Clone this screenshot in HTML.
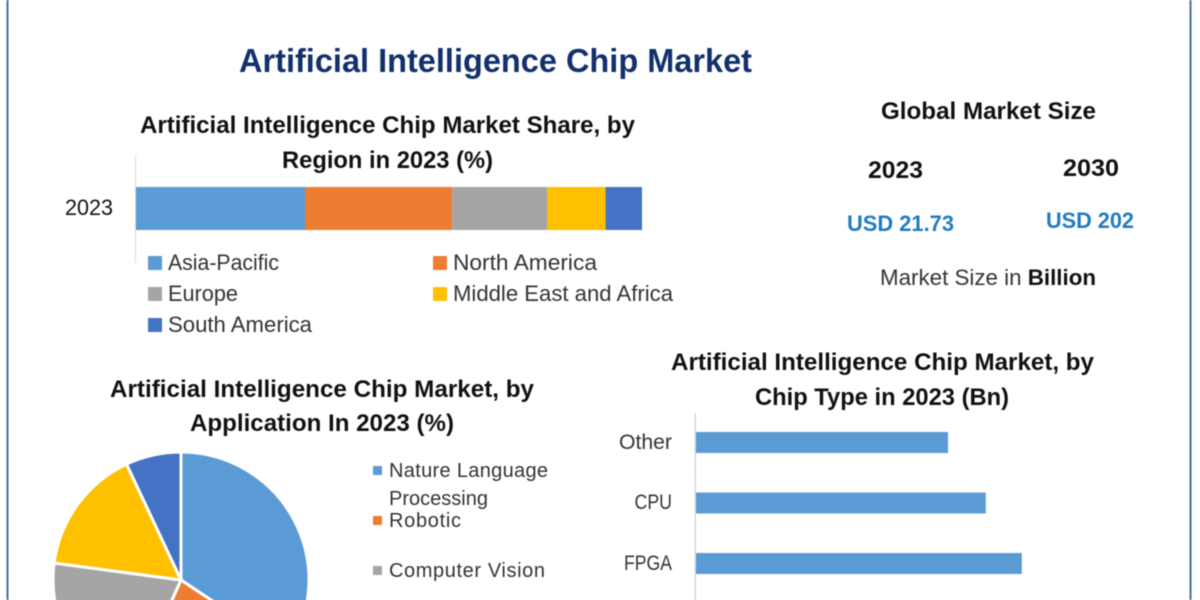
<!DOCTYPE html>
<html lang="en">
<head>
<meta charset="utf-8">
<title>Artificial Intelligence Chip Market</title>
<style>
html,body{margin:0;padding:0;background:#fff;width:1200px;height:600px;overflow:hidden}
svg{display:block;font-family:"Liberation Sans",sans-serif}
.main{filter:blur(.4px)}
.t{font-weight:bold;fill:#111;font-size:24px}
.l{fill:#333;font-size:22px}
</style>
</head>
<body>
<svg id="chart" width="1200" height="600" viewBox="0 0 1200 600" xmlns="http://www.w3.org/2000/svg">
<g class="main">
<rect width="1200" height="600" fill="#fff"/>
<rect x="6.5" y="0" width="2" height="600" fill="#41719c"/>
<rect x="1189.5" y="0" width="2" height="600" fill="#41719c"/>

<text x="239" y="72" font-size="33" font-weight="bold" fill="#12306b" textLength="513" lengthAdjust="spacingAndGlyphs">Artificial Intelligence Chip Market</text>

<text class="t" x="140" y="133" textLength="495" lengthAdjust="spacingAndGlyphs">Artificial Intelligence Chip Market Share, by</text>
<text class="t" x="282" y="168" textLength="211" lengthAdjust="spacingAndGlyphs">Region in 2023 (%)</text>
<rect x="135" y="155" width="1" height="108" fill="#d9d9d9"/>
<text x="65" y="215" font-size="22" fill="#111" textLength="48" lengthAdjust="spacingAndGlyphs">2023</text>
<g id="stack"></g>

<rect x="148" y="256" width="14" height="14" fill="#5b9bd5"/>
<text class="l" x="168" y="270" textLength="111" lengthAdjust="spacingAndGlyphs">Asia-Pacific</text>
<rect x="433" y="256" width="14" height="14" fill="#ed7d31"/>
<text class="l" x="453" y="270" textLength="144" lengthAdjust="spacingAndGlyphs">North America</text>
<rect x="148" y="287" width="14" height="14" fill="#a5a5a5"/>
<text class="l" x="168" y="301" textLength="70" lengthAdjust="spacingAndGlyphs">Europe</text>
<rect x="433" y="287" width="14" height="14" fill="#ffc000"/>
<text class="l" x="453" y="301" textLength="220" lengthAdjust="spacingAndGlyphs">Middle East and Africa</text>
<rect x="148" y="318" width="14" height="14" fill="#4472c4"/>
<text class="l" x="168" y="332" textLength="144" lengthAdjust="spacingAndGlyphs">South America</text>

<text class="t" x="881" y="119" textLength="215" lengthAdjust="spacingAndGlyphs">Global Market Size</text>
<text class="t" x="868" y="178" textLength="55" lengthAdjust="spacingAndGlyphs">2023</text>
<text class="t" x="1063" y="176" textLength="56" lengthAdjust="spacingAndGlyphs">2030</text>
<text x="847" y="231" font-size="22" font-weight="bold" fill="#1f7cc0" textLength="107" lengthAdjust="spacingAndGlyphs">USD 21.73</text>
<text x="1046" y="228" font-size="22" font-weight="bold" fill="#1f7cc0" textLength="88" lengthAdjust="spacingAndGlyphs">USD 202</text>
<text x="880" y="285" font-size="22" fill="#333" textLength="216" lengthAdjust="spacingAndGlyphs">Market Size in <tspan font-weight="bold" fill="#111">Billion</tspan></text>

<text class="t" x="110" y="397" textLength="424" lengthAdjust="spacingAndGlyphs">Artificial Intelligence Chip Market, by</text>
<text class="t" x="190" y="431" textLength="264" lengthAdjust="spacingAndGlyphs">Application In 2023 (%)</text>
<g id="pie"></g>

<rect x="373" y="466" width="9" height="9" fill="#5b9bd5"/>
<text class="l" x="389" y="477" textLength="159" lengthAdjust="spacing" style="font-size:20px">Nature Language</text>
<text class="l" x="389" y="505" textLength="99" lengthAdjust="spacing" style="font-size:20px">Processing</text>
<rect x="373" y="516" width="9" height="9" fill="#ed7d31"/>
<text class="l" x="389" y="527" textLength="72" lengthAdjust="spacing" style="font-size:20px">Robotic</text>
<rect x="373" y="566" width="9" height="9" fill="#a5a5a5"/>
<text class="l" x="389" y="577" textLength="156" lengthAdjust="spacing" style="font-size:20px">Computer Vision</text>

<text class="t" x="671" y="370" textLength="423" lengthAdjust="spacingAndGlyphs">Artificial Intelligence Chip Market, by</text>
<text class="t" x="755" y="405" textLength="254" lengthAdjust="spacingAndGlyphs">Chip Type in 2023 (Bn)</text>
<rect x="694.5" y="413" width="1.5" height="187" fill="#d9d9d9"/>
<text x="619" y="449" font-size="21" fill="#333" textLength="53" lengthAdjust="spacingAndGlyphs">Other</text>
<text x="634.5" y="509" font-size="21" fill="#333" textLength="37.5" lengthAdjust="spacingAndGlyphs">CPU</text>
<text x="624" y="570" font-size="21" fill="#333" textLength="48" lengthAdjust="spacingAndGlyphs">FPGA</text>
<g id="bars"></g>
</g>
</svg>
<script>
const NS = 'http://www.w3.org/2000/svg';

const regionNames = ['Asia-Pacific', 'North America', 'Europe', 'Middle East and Africa', 'South America'];
const regionShares = [33.4, 29.1, 18.8, 11.5, 7.2];
const pieNames = ['Nature Language Processing', 'Robotic', 'Computer Vision', 'Other Application A', 'Other Application B'];
const pieShares = [34.4, 22.4, 20.4, 15.9, 7];
const chipTypes = ['Other', 'CPU', 'FPGA'];
const chipValues = [4.2, 4.83, 5.43];
const seriesColors = ['#5b9bd5', '#ed7d31', '#a5a5a5', '#ffc000', '#4472c4'];

function sum(values) {
  return values.reduce(function (a, b) { return a + b; }, 0);
}
function slug(s) {
  return s.toLowerCase().replace(/[^a-z0-9]+/g, '-');
}

// stacked bar axis
const stackLeft = 136, stackWidth = 506, stackTop = 187, stackHeight = 43;
function stackX(v) {
  return stackLeft + v / sum(regionShares) * stackWidth;
}
const stackGroup = document.getElementById('stack');
let running = 0;
regionShares.forEach(function (v, i) {
  const r = document.createElementNS(NS, 'rect');
  
  
  r.setAttribute('x', stackX(running));
  r.setAttribute('y', stackTop);
  r.setAttribute('width', stackX(running + v) - stackX(running));
  r.setAttribute('height', stackHeight);
  r.setAttribute('fill', seriesColors[i]);
  stackGroup.appendChild(r);
  running += v;
});

// pie axis
const pieCx = 181, pieCy = 580, pieR = 128;
function pieAngle(v) {
  return v / sum(pieShares) * 2 * Math.PI;
}
function piePoint(a) {
  return (pieCx + pieR * Math.sin(a)) + ' ' + (pieCy - pieR * Math.cos(a));
}
const pieGroup = document.getElementById('pie');
let pieRunning = 0;
pieShares.forEach(function (v, i) {
  const a0 = pieAngle(pieRunning);
  const a1 = pieAngle(pieRunning + v);
  const p = document.createElementNS(NS, 'path');
  
  
  p.setAttribute('d', 'M' + pieCx + ' ' + pieCy + ' L' + piePoint(a0) + ' A' + pieR + ' ' + pieR + ' 0 ' + (a1 - a0 > Math.PI ? 1 : 0) + ' 1 ' + piePoint(a1) + ' Z');
  p.setAttribute('fill', seriesColors[i]);
  p.setAttribute('stroke', '#fff');
  p.setAttribute('stroke-width', '3');
  pieGroup.appendChild(p);
  pieRunning += v;
});

// horizontal bar axes
const barLeft = 696, barScale = 60, barFirstCenter = 442.5, barStep = 60.5, barHeight = 21;
function barX(v) {
  return barLeft + v * barScale;
}
function barY(i) {
  return barFirstCenter + i * barStep;
}
const barGroup = document.getElementById('bars');
chipValues.forEach(function (v, i) {
  const r = document.createElementNS(NS, 'rect');
  
  
  r.setAttribute('x', barLeft);
  r.setAttribute('y', barY(i) - barHeight / 2);
  r.setAttribute('width', barX(v) - barLeft);
  r.setAttribute('height', barHeight);
  r.setAttribute('fill', '#5b9bd5');
  barGroup.appendChild(r);
});
</script>
</body>
</html>
